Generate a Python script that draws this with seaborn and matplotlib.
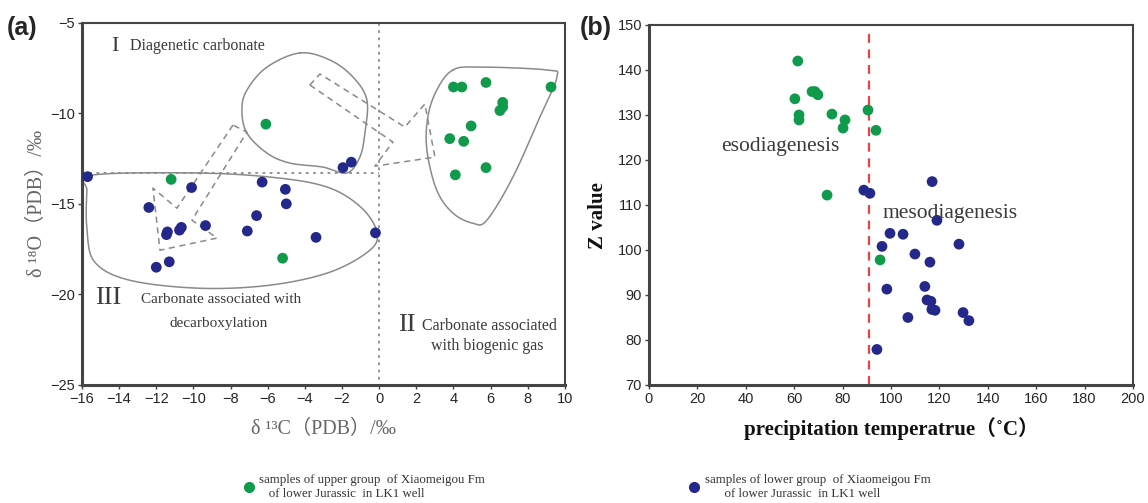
import numpy as np
import pandas as pd
import seaborn as sns
import matplotlib.pyplot as plt
from matplotlib.lines import Line2D

# panel (a): carbon / oxygen isotopes
a_upper_c = [-6.1, -11.2, -5.2, 4.0, 4.45, 5.75, 9.25, 6.65, 6.5, 6.65, 4.95, 3.8, 4.55, 5.75, 4.1]
a_upper_o = [-10.6, -13.65, -18.0, -8.55, -8.55, -8.3, -8.55, -9.4, -9.85, -9.65, -10.7, -11.4, -11.55, -13.0, -13.4]
a_lower_c = [-15.7, -12.4, -11.45, -11.4, -10.75, -10.65, -10.1, -9.35, -7.1, -6.3, -6.6, -5.05, -5.0,
             -3.4, -1.95, -1.5, -0.2, -12.0, -11.3]
a_lower_o = [-13.5, -15.2, -16.7, -16.55, -16.45, -16.3, -14.1, -16.2, -16.5, -13.8, -15.65, -14.2, -15.0,
             -16.85, -13.0, -12.7, -16.6, -18.5, -18.2]

# panel (b): precipitation temperature vs Z value
b_upper_t = [61.5, 60.3, 62.0, 62.0, 67.4, 68.6, 69.8, 75.6, 81.0, 80.2, 90.5, 93.8, 73.6, 95.5]
b_upper_z = [142.0, 133.6, 130.0, 128.9, 135.2, 135.2, 134.5, 130.2, 128.9, 127.1, 131.1, 126.6, 112.2, 97.8]
b_lower_t = [88.8, 91.3, 117.0, 119.0, 99.6, 105.0, 96.3, 128.1, 109.9, 116.1, 98.3, 114.0, 114.9,
             116.5, 116.9, 118.2, 129.8, 132.2, 107.0, 94.2]
b_lower_z = [113.3, 112.6, 115.2, 106.6, 103.7, 103.5, 100.8, 101.3, 99.1, 97.3, 91.3, 91.9, 88.9,
             88.6, 86.8, 86.6, 86.1, 84.3, 85.0, 77.9]
t_boundary = 91

groups = ['upper', 'lower']
labels = ['samples of upper group  of Xiaomeigou Fm\n   of lower Jurassic  in LK1 well',
          'samples of lower group  of Xiaomeigou Fm\n      of lower Jurassic  in LK1 well']
pal = {'upper': '#0f9a4c', 'lower': '#23288a'}

# outlines of the diagenetic fields in panel (a)
zone1 = [(-4.27, -6.67), (-2.65, -7.06), (-1.41, -8.0), (-0.66, -9.27), (-0.77, -11.09), (-1.04, -12.42),
         (-1.74, -13.3), (-3.03, -12.97), (-4.81, -12.75), (-6.04, -12.2), (-7.12, -11.09), (-7.39, -9.82),
         (-7.12, -8.72), (-6.04, -7.45)]
zone2 = [(3.97, -7.61), (5.42, -7.45), (9.03, -7.61), (9.57, -8.0), (8.65, -10.21), (7.2, -13.52),
         (5.8, -15.9), (5.04, -16.07), (3.97, -15.51), (3.1, -14.25), (2.57, -12.04), (2.62, -10.21),
         (3.1, -8.72)]
zone3 = [(-15.5, -13.42), (-9.65, -13.3), (-5.34, -13.58), (-2.65, -14.13), (-0.93, -15.24),
         (-0.12, -16.56), (-0.5, -17.56), (-2.65, -18.77), (-5.88, -19.49), (-9.65, -19.66),
         (-13.42, -19.22), (-15.3, -18.23), (-15.73, -16.46), (-15.73, -14.3)]
arrow1 = [(-7.87, -10.65), (-10.89, -15.24), (-12.18, -14.13), (-11.8, -17.56), (-8.73, -16.89),
          (-10.08, -15.9), (-7.12, -11.04), (-7.87, -10.65)]
arrow2 = [(-3.73, -8.44), (-3.19, -7.83), (1.38, -10.76), (2.46, -9.49), (3.0, -12.42), (-0.23, -12.92),
          (0.74, -11.59), (-3.73, -8.44)]


def smooth_closed(pts, n=30):
    p = np.array(pts)
    out = []
    k = len(p)
    for i in range(k):
        p0, p1, p2, p3 = p[i - 1], p[i], p[(i + 1) % k], p[(i + 2) % k]
        t = np.linspace(0, 1, n, endpoint=False)[:, None]
        out.append(0.5 * ((2 * p1) + (-p0 + p2) * t + (2 * p0 - 5 * p1 + 4 * p2 - p3) * t ** 2
                          + (-p0 + 3 * p1 - 3 * p2 + p3) * t ** 3))
    out = np.vstack(out + [out[0][:1]])
    return out[:, 0], out[:, 1]


df_a = pd.DataFrame({'c': a_upper_c + a_lower_c, 'o': a_upper_o + a_lower_o,
                     'g': ['upper'] * len(a_upper_c) + ['lower'] * len(a_lower_c)})
df_b = pd.DataFrame({'t': b_upper_t + b_lower_t, 'z': b_upper_z + b_lower_z,
                     'g': ['upper'] * len(b_upper_t) + ['lower'] * len(b_lower_t)})

sns.set_style('white')
plt.rcParams['font.family'] = ['Liberation Sans', 'DejaVu Sans']
serif = ['Liberation Serif', 'Noto Sans CJK SC', 'DejaVu Sans']
txt = '#3a3a3a'

fig = plt.figure(figsize=(11.48, 5.03), dpi=100)
ax1 = fig.add_axes([0.0714, 0.2346, 0.4207, 0.7203])
ax2 = fig.add_axes([0.5653, 0.2346, 0.4216, 0.7157])

# ---- panel (a)
for zone in [zone1, zone2, zone3]:
    xs, ys = smooth_closed(zone)
    ax1.plot(xs, ys, color='#8a8a8a', lw=1.1, zorder=1)
for arr in [arrow1, arrow2]:
    xs, ys = zip(*arr)
    ax1.plot(xs, ys, color='#8a8a8a', lw=1.1, ls=(0, (4, 3)), zorder=1)
ax1.plot([0, 0], [-5, -25], color='#8a8a8a', lw=1.3, ls=(0, (1.5, 2.5)), zorder=1)
ax1.plot([-16, 0], [-13.3, -13.3], color='#8a8a8a', lw=1.3, ls=(0, (1.5, 2.5)), zorder=1)

sns.scatterplot(data=df_a, x='c', y='o', hue='g', palette=pal, s=60, edgecolor='none',
                legend=False, ax=ax1, zorder=3)
ax1.set_xlim(-16, 10)
ax1.set_ylim(-25, -5)
ax1.set_xticks(np.arange(-16, 11, 2))
ax1.set_yticks(np.arange(-25, -4, 5))
ax1.set_xlabel('δ ¹³C（PDB）/‰', fontsize=14.5, color='#666666', family=serif, labelpad=10)
ax1.set_ylabel('δ ¹⁸O（PDB）/‰', fontsize=14.5, color='#666666', family=serif, labelpad=2)

ax1.text(-14.4, -6.3, 'I', fontsize=16, color=txt, family=serif, va='center')
ax1.text(-13.4, -6.3, 'Diagenetic carbonate', fontsize=11.5, color=txt, family=serif, va='center')
ax1.text(-15.3, -20.2, 'III', fontsize=19, color=txt, family=serif, va='center')
ax1.text(-12.8, -20.3, 'Carbonate associated with', fontsize=11, color=txt, family=serif, va='center')
ax1.text(-11.3, -21.6, 'decarboxylation', fontsize=11, color=txt, family=serif, va='center')
ax1.text(1.0, -21.7, 'II', fontsize=19, color=txt, family=serif, va='center')
ax1.text(2.3, -21.75, 'Carbonate associated', fontsize=11.5, color=txt, family=serif, va='center')
ax1.text(2.8, -22.85, 'with biogenic gas', fontsize=11.5, color=txt, family=serif, va='center')

# ---- panel (b)
ax2.axvline(t_boundary, color='#e8434a', lw=1.6, ls=(0, (4, 3)), ymax=0.985, zorder=1)
sns.scatterplot(data=df_b, x='t', y='z', hue='g', palette=pal, s=60, edgecolor='none',
                legend=False, ax=ax2, zorder=3)
ax2.set_xlim(0, 200)
ax2.set_ylim(70, 150)
ax2.set_xticks(np.arange(0, 201, 20))
ax2.set_yticks(np.arange(70, 151, 10))
ax2.set_xlabel('precipitation temperatrue（˚C）', fontsize=15, fontweight='bold', color='#111111',
               family=serif, labelpad=8)
ax2.set_ylabel('Z value', fontsize=15, fontweight='bold', color='#111111', family=serif, labelpad=4)
ax2.yaxis.set_label_coords(-0.085, 0.47)
ax2.text(30, 123, 'esodiagenesis', fontsize=15.5, color=txt, family=serif, va='center')
ax2.text(96.5, 108.2, 'mesodiagenesis', fontsize=15.5, color=txt, family=serif, va='center')

for ax in [ax1, ax2]:
    for side in ['left', 'bottom']:
        ax.spines[side].set_linewidth(2.2)
        ax.spines[side].set_color('#444444')
    for side in ['top', 'right']:
        ax.spines[side].set_linewidth(1.5)
        ax.spines[side].set_color('#444444')
    ax.tick_params(axis='both', direction='out', length=3, width=1, color='#444444',
                   labelsize=10.5, pad=2, bottom=True, left=True)

fig.text(0.006, 0.945, '(a)', fontsize=18, fontweight='bold', ha='left', va='center')
fig.text(0.505, 0.945, '(b)', fontsize=18, fontweight='bold', ha='left', va='center')

# legends under each panel
for g, lab, pos in zip(groups, labels, [(0.201, 0.032), (0.589, 0.032)]):
    h = Line2D([], [], marker='o', ls='none', color=pal[g], markersize=7)
    fig.legend(handles=[h], labels=[lab], loc='center left', bbox_to_anchor=pos, frameon=False,
               handletextpad=0.3, handlelength=1.0,
               prop={'family': serif, 'size': 9.3})
for leg in fig.legends:
    for t in leg.get_texts():
        t.set_color('#333333')

plt.savefig('out.png', dpi=100)
